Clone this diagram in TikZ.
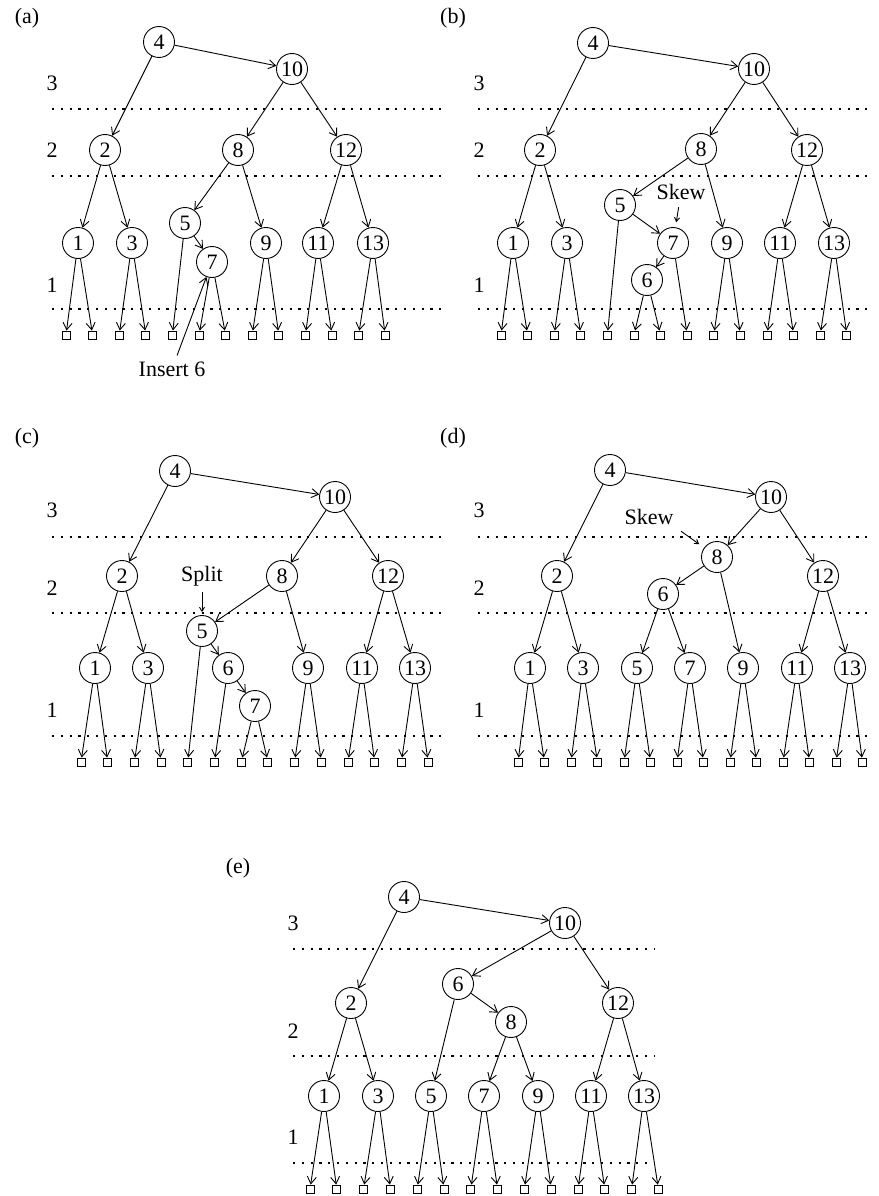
\documentclass[tikz,border=0pt]{standalone}
\usepackage{fontspec}
\setmainfont{Liberation Serif}
\usepackage{tikz}
\usetikzlibrary{arrows.meta, positioning}

\begin{document}
\begin{tikzpicture}[x=1pt, y=-1pt,
        font=\fontsize{22}{26}\selectfont,
        key/.style={circle, draw, line width=0.9pt, minimum size=31pt, inner sep=0pt},
        leaf/.style={rectangle, draw, line width=0.9pt, minimum size=8pt, inner sep=0pt},
        edge/.style={draw, line width=0.9pt, -{Straight Barb[length=7pt, width=9pt]}},
        note/.style={draw, line width=0.9pt, -{Straight Barb[length=4pt, width=5pt]}},
        level/.style={draw, line width=2.2pt, dash pattern=on 2.2pt off 6.6pt}]

    \useasboundingbox (0,0) rectangle (878,1196);

    % ---------- (a) ----------
    \node (la) at (27,18) {(a)};
    \foreach \y/\t in {83/3, 150/2, 285/1} \node (la\t) at (52,\y) {\t};
    \foreach \y in {109, 176, 309} \path[level] (52,\y) -- (442,\y);
    \node [key] (a4) at (159,42) {4};
    \node [key] (a10) at (292,69) {10};
    \node [key] (a2) at (105,150) {2};
    \node [key] (a8) at (238,150) {8};
    \node [key] (a12) at (346,150) {12};
    \node [key] (a5) at (185,223) {5};
    \node [key] (a1) at (78,243) {1};
    \node [key] (a3) at (132,243) {3};
    \node [key] (a7) at (212,262) {7};
    \node [key] (a9) at (266,243) {9};
    \node [key] (a11) at (318,243) {11};
    \node [key] (a13) at (373,243) {13};
    \foreach \i in {1,...,13} \node [leaf] (aL\i) at ({66+26.6*(\i-1)},335) {};
    \foreach \p/\c in {4/10, 4/2, 10/8, 10/12, 2/1, 2/3, 8/5, 8/9, 12/11, 12/13, 5/7}
        \path [edge] (a\p) -- (a\c);
    \foreach \p/\c in {1/1, 1/2, 3/3, 3/4, 5/5, 7/6, 7/7, 9/8, 9/9, 11/10, 11/11, 13/12, 13/13}
        \path [edge] (a\p) -- (aL\c);
    \node [inner sep=6pt] (ins) at (172,369) {Insert 6};
    \path [edge] (ins) -- (a7);

    % ---------- (b) ----------
    \node (lb) at (453,18) {(b)};
    \foreach \y/\t in {83/3, 150/2, 285/1} \node (lb\t) at (479,\y) {\t};
    \foreach \y in {109, 176, 309} \path[level] (478,\y) -- (873,\y);
    \node [key] (b4) at (593,43) {4};
    \node [key] (b10) at (754,69) {10};
    \node [key] (b2) at (540,150) {2};
    \node [key] (b8) at (701,149) {8};
    \node [key] (b12) at (807,150) {12};
    \node [key] (b5) at (620,205) {5};
    \node [key] (b1) at (513,243) {1};
    \node [key] (b3) at (567,243) {3};
    \node [key] (b7) at (673,243) {7};
    \node [key] (b6) at (647,280) {6};
    \node [key] (b9) at (727,243) {9};
    \node [key] (b11) at (780,243) {11};
    \node [key] (b13) at (834,243) {13};
    \foreach \i in {1,...,14} \node [leaf] (bL\i) at ({501+26.6*(\i-1)},335) {};
    \foreach \p/\c in {4/10, 4/2, 10/8, 10/12, 2/1, 2/3, 8/5, 8/9, 12/11, 12/13, 5/7, 7/6}
        \path [edge] (b\p) -- (b\c);
    \foreach \p/\c in {1/1, 1/2, 3/3, 3/4, 5/5, 6/6, 6/7, 7/8, 9/9, 9/10, 11/11, 11/12, 13/13, 13/14}
        \path [edge] (b\p) -- (bL\c);
    \node (bskew) at (681,192) {Skew};
    \path [note, shorten <=4pt, shorten >=5pt] (bskew) -- (b7);

    % ---------- (c) ----------
    \node (lc) at (27,438) {(c)};
    \foreach \y/\t in {510/3, 588/2, 710/1} \node (lc\t) at (52,\y) {\t};
    \foreach \y in {537, 613, 736} \path[level] (52,\y) -- (442,\y);
    \node [key] (c4) at (175,471) {4};
    \node [key] (c10) at (335,497) {10};
    \node [key] (c2) at (122,576) {2};
    \node [key] (c8) at (282,576) {8};
    \node [key] (c12) at (388,576) {12};
    \node [key] (c5) at (202,631) {5};
    \node [key] (c1) at (95,668) {1};
    \node [key] (c3) at (148,668) {3};
    \node [key] (c6) at (228,668) {6};
    \node [key] (c7) at (255,706) {7};
    \node [key] (c9) at (308,668) {9};
    \node [key] (c11) at (362,668) {11};
    \node [key] (c13) at (415,668) {13};
    \foreach \i in {1,...,14} \node [leaf] (cL\i) at ({81+26.7*(\i-1)},762) {};
    \foreach \p/\c in {4/10, 4/2, 10/8, 10/12, 2/1, 2/3, 8/5, 8/9, 12/11, 12/13, 5/6, 6/7}
        \path [edge] (c\p) -- (c\c);
    \foreach \p/\c in {1/1, 1/2, 3/3, 3/4, 5/5, 6/6, 7/7, 7/8, 9/9, 9/10, 11/11, 11/12, 13/13, 13/14}
        \path [edge] (c\p) -- (cL\c);
    \node (csplit) at (202,576) {Split};
    \path [note, shorten <=2pt, shorten >=3pt] (csplit) -- (c5);

    % ---------- (d) ----------
    \node (ld) at (453,438) {(d)};
    \foreach \y/\t in {510/3, 588/2, 710/1} \node (ld\t) at (479,\y) {\t};
    \foreach \y in {537, 613, 736} \path[level] (478,\y) -- (873,\y);
    \node [key] (d4) at (610,470) {4};
    \node [key] (d10) at (771,497) {10};
    \node [key] (d8) at (717,557) {8};
    \node [key] (d2) at (557,576) {2};
    \node [key] (d12) at (823,576) {12};
    \node [key] (d6) at (663,594) {6};
    \node [key] (d1) at (530,668) {1};
    \node [key] (d3) at (583,668) {3};
    \node [key] (d5) at (637,668) {5};
    \node [key] (d7) at (690,668) {7};
    \node [key] (d9) at (743,668) {9};
    \node [key] (d11) at (797,668) {11};
    \node [key] (d13) at (850,668) {13};
    \foreach \i in {1,...,14} \node [leaf] (dL\i) at ({518+26.5*(\i-1)},762) {};
    \foreach \p/\c in {4/10, 4/2, 10/8, 10/12, 2/1, 2/3, 8/6, 8/9, 6/5, 6/7, 12/11, 12/13}
        \path [edge] (d\p) -- (d\c);
    \foreach \p/\c in {1/1, 1/2, 3/3, 3/4, 5/5, 5/6, 7/7, 7/8, 9/9, 9/10, 11/11, 11/12, 13/13, 13/14}
        \path [edge] (d\p) -- (dL\c);
    \node (dskew) at (649,517) {Skew};
    \path [note, shorten <=5pt, shorten >=6pt] (dskew.south east) -- (d8);

    % ---------- (e) ----------
    \node (le) at (238,868) {(e)};
    \foreach \y/\t in {923/3, 1031/2, 1137/1} \node (le\t) at (293,\y) {\t};
    \foreach \y in {949, 1056, 1163} \path[level] (293,\y) -- (655,\y);
    \node [key] (e4) at (404,897) {4};
    \node [key] (e10) at (565,923) {10};
    \node [key] (e6) at (458,984) {6};
    \node [key] (e2) at (351,1003) {2};
    \node [key] (e12) at (618,1003) {12};
    \node [key] (e8) at (511,1022) {8};
    \node [key] (e1) at (324,1096) {1};
    \node [key] (e3) at (378,1096) {3};
    \node [key] (e5) at (431,1096) {5};
    \node [key] (e7) at (484,1096) {7};
    \node [key] (e9) at (538,1096) {9};
    \node [key] (e11) at (591,1096) {11};
    \node [key] (e13) at (644,1096) {13};
    \foreach \i in {1,...,14} \node [leaf] (eL\i) at ({310+26.8*(\i-1)},1189) {};
    \foreach \p/\c in {4/10, 4/2, 10/6, 10/12, 6/5, 6/8, 8/7, 8/9, 2/1, 2/3, 12/11, 12/13}
        \path [edge] (e\p) -- (e\c);
    \foreach \p/\c in {1/1, 1/2, 3/3, 3/4, 5/5, 5/6, 7/7, 7/8, 9/9, 9/10, 11/11, 11/12, 13/13, 13/14}
        \path [edge] (e\p) -- (eL\c);
\end{tikzpicture}
\end{document}
